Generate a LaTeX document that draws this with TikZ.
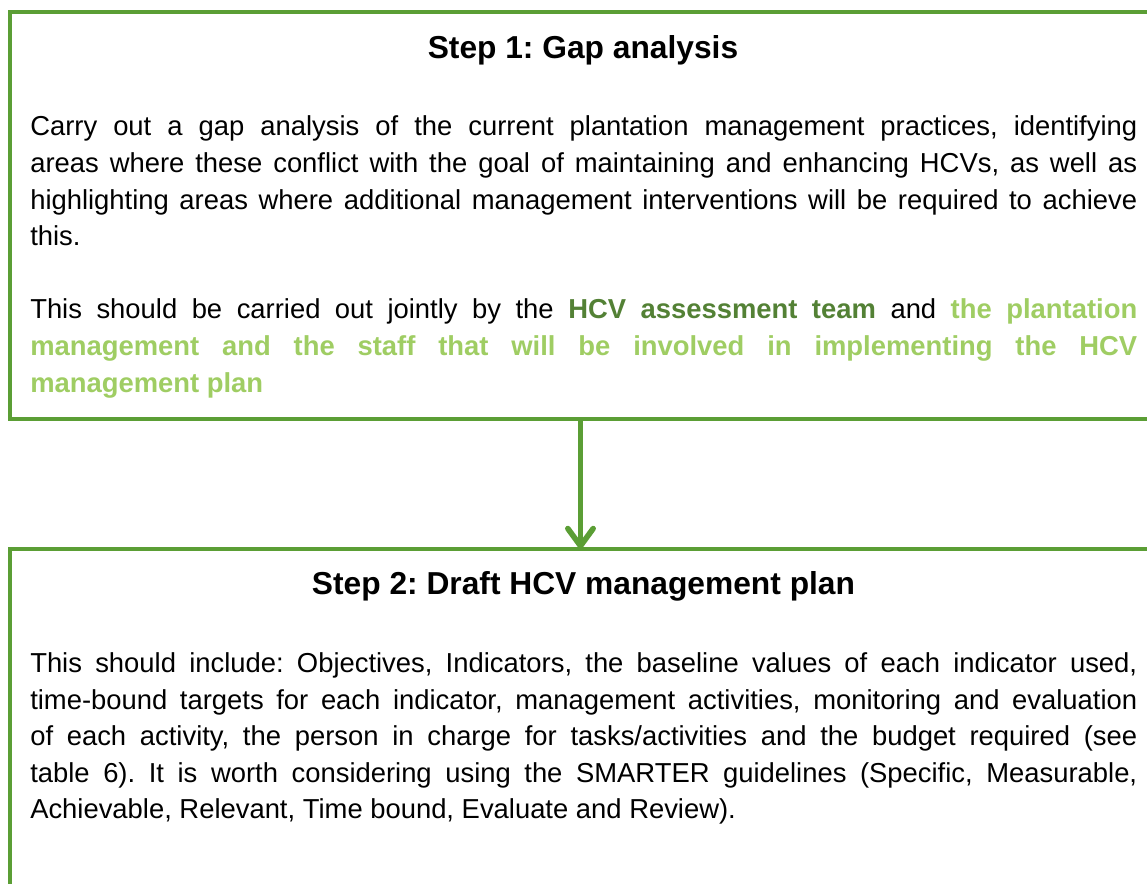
\documentclass[tikz,border=0pt]{standalone}
\usepackage{fontspec}
\setmainfont{Liberation Sans}
\usetikzlibrary{arrows.meta}
\definecolor{frame}{HTML}{5B9E35}
\definecolor{darkg}{HTML}{538135}
\definecolor{lightg}{HTML}{9FCD63}
\hyphenpenalty=10000
\exhyphenpenalty=10000
\tolerance=10000
\frenchspacing
\begin{document}
\begin{tikzpicture}[x=0.75pt,y=-0.75pt,
  box/.style={draw=frame,line width=3pt,rectangle,inner sep=0pt,outer sep=0pt,anchor=north west,minimum width=870pt},
  title/.style={font=\fontsize{23.8pt}{28pt}\selectfont\bfseries,inner sep=0pt,anchor=base},
  body/.style={font=\fontsize{20.55pt}{27.6pt}\selectfont,text width=830.25pt,align=justify,inner sep=0pt,anchor=base west},
  body2/.style={body,font=\fontsize{20.55pt}{27.4pt}\selectfont},
  flow/.style={draw=frame,line width=4.2pt,-{Straight Barb[length=13pt,width=19pt,line cap=round,line join=round]}}
]
\useasboundingbox (0,0) rectangle (1147,884);
\node[box,minimum height=305pt] (box1) at (10,12) {};
\node[box,minimum height=300pt] (box2) at (10,548.7) {};
\coordinate (ax) at (580.5,0);
\draw[flow] (box1.south -| ax) -- (box2.north -| ax);

\node[title] (t1) at (583,59) {Step 1: Gap analysis};
\node[body] (p1) at (30,135.5) {Carry out a gap analysis of the current plantation management practices, identifying\linebreak
areas where these conflict with the goal of maintaining and enhancing HCVs, as well as\linebreak
highlighting areas where additional management interventions will be required to achieve\linebreak
this.};
\node[body] (p2) at (30,318.5) {This should be carried out jointly by the \textcolor{darkg}{\bfseries HCV assessment team} and \textcolor{lightg}{\bfseries the plantation\linebreak
management and the staff that will be involved in implementing the HCV\linebreak
management plan}};

\node[title] (t2) at (583.5,594) {Step 2: Draft HCV management plan};
\node[body2] (p3) at (30,672.5) {This should include: Objectives, Indicators, the baseline values of each indicator used,\linebreak
time-bound targets for each indicator, management activities, monitoring and evaluation\linebreak
of each activity, the person in charge for tasks/activities and the budget required (see\linebreak
table 6). It is worth considering using the SMARTER guidelines (Specific, Measurable,\linebreak
Achievable, Relevant, Time bound, Evaluate and Review).};
\end{tikzpicture}
\end{document}
